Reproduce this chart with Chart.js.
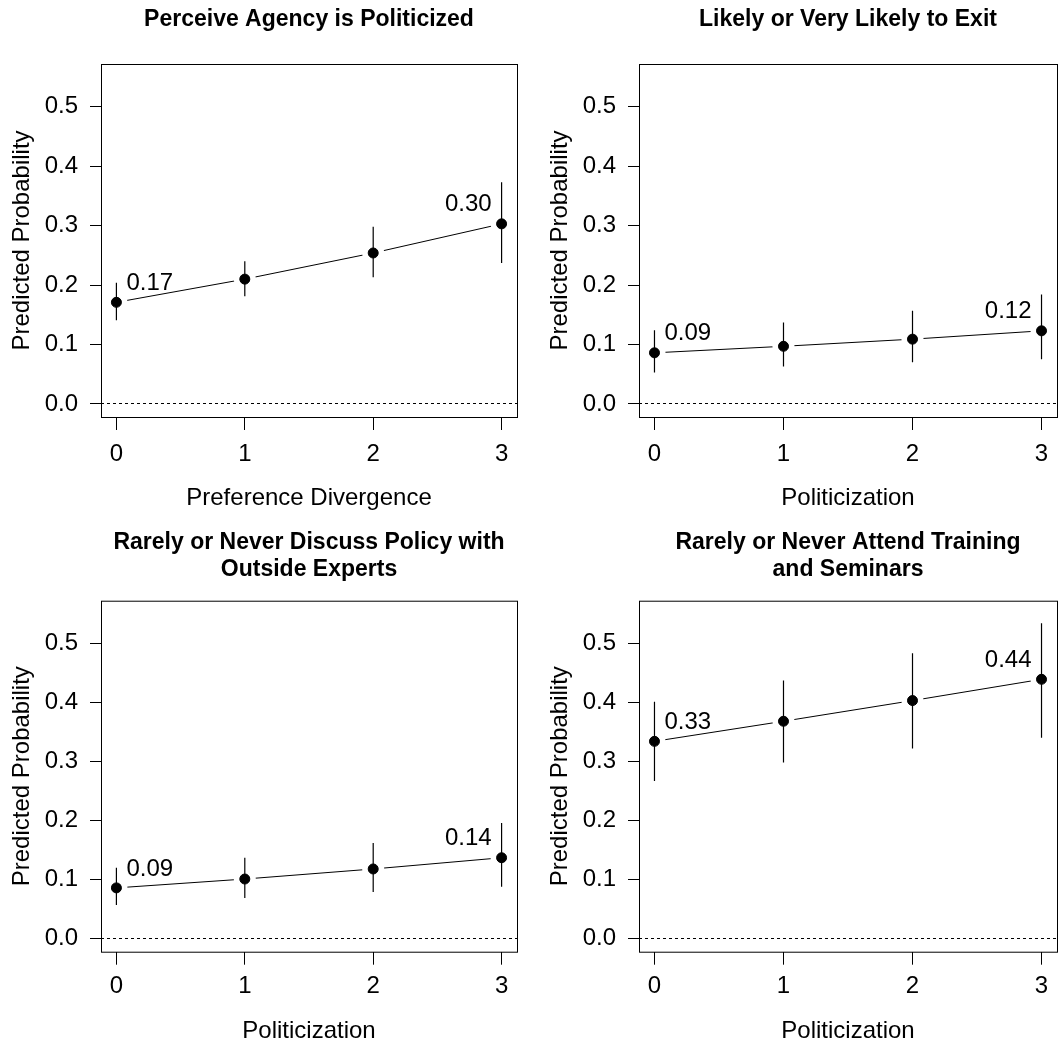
<!DOCTYPE html>
<html>
<head>
<meta charset="utf-8">
<script src="https://cdn.jsdelivr.net/npm/chart.js@4.4.1/dist/chart.umd.min.js"></script>
<style>
  html, body { margin: 0; padding: 0; background: #fff; overflow: hidden; }
  body { width: 1058px; height: 1047px; position: relative; }
  canvas { position: absolute; }
</style>
</head>
<body>
<canvas id="c1" width="530" height="520" style="left:0;top:0"></canvas>
<canvas id="c2" width="530" height="520" style="left:538px;top:0"></canvas>
<canvas id="c3" width="530" height="527" style="left:0;top:520px"></canvas>
<canvas id="c4" width="530" height="527" style="left:538px;top:520px"></canvas>
<script>
// values
const xValues = [0, 1, 2, 3];
const xLimits = [0, 3];
const yTicks = [0, 0.1, 0.2, 0.3, 0.4, 0.5];
const yLimits = [0, 0.55];

const politicizedEst = [0.171, 0.210, 0.254, 0.303];
const politicizedLo = [0.141, 0.181, 0.213, 0.237];
const politicizedHi = [0.204, 0.240, 0.298, 0.373];

const exitEst = [0.086, 0.097, 0.109, 0.123];
const exitLo = [0.053, 0.063, 0.070, 0.075];
const exitHi = [0.124, 0.137, 0.157, 0.184];

const expertsEst = [0.086, 0.101, 0.118, 0.137];
const expertsLo = [0.057, 0.069, 0.079, 0.088];
const expertsHi = [0.120, 0.137, 0.162, 0.196];

const trainingEst = [0.334, 0.368, 0.403, 0.439];
const trainingLo = [0.267, 0.298, 0.322, 0.340];
const trainingHi = [0.401, 0.437, 0.483, 0.534];

const FONT = "'Liberation Sans', Arial, Helvetica, sans-serif";

// R style axis range: 4% extra on each side
function extend(lim) {
  const d = (lim[1] - lim[0]) * 0.04;
  return [lim[0] - d, lim[1] + d];
}
const [xMin, xMax] = extend(xLimits);
const [yMin, yMax] = extend(yLimits);

// frame around the plot region + end labels
const framePlugin = {
  id: "frame",
  afterDatasetsDraw(chart) {
    const est = chart.data.datasets[2].data;
    const xs = chart.scales.x, ys = chart.scales.y;
    const ctx = chart.ctx;
    ctx.save();
    ctx.font = "24px " + FONT;
    ctx.fillStyle = "#000";
    ctx.textBaseline = "middle";
    const first = est[0], last = est[est.length - 1];
    ctx.textAlign = "left";
    ctx.fillText(first.y.toFixed(2), xs.getPixelForValue(first.x) + 10, ys.getPixelForValue(first.y) - 19);
    ctx.textAlign = "right";
    ctx.fillText(last.y.toFixed(2), xs.getPixelForValue(last.x) - 10, ys.getPixelForValue(last.y) - 19);
    ctx.restore();
  },
  afterDraw(chart) {
    const a = chart.chartArea;
    const ctx = chart.ctx;
    ctx.save();
    ctx.strokeStyle = "#000";
    ctx.lineWidth = 1;
    ctx.strokeRect(a.left + 0.5, a.top + 0.5, a.right - a.left, a.bottom - a.top);
    ctx.restore();
  },
};

function makePanel(id, title, xTitle, est, lo, hi, layout, padRight) {
  const pts = xValues.map((x, i) => ({ x: x, y: est[i] }));
  const bars = [];
  xValues.forEach((x, i) => {
    bars.push({ x: x, y: lo[i] }, { x: x, y: hi[i] }, { x: x, y: null });
  });
  const font = { family: FONT, size: 24 };

  new Chart(document.getElementById(id), {
    type: "scatter",
    data: {
      datasets: [
        {
          // connecting line, white discs leave the gaps like type="b"
          data: pts,
          showLine: true,
          borderColor: "#000",
          borderWidth: 1,
          pointRadius: 11,
          pointBackgroundColor: "#fff",
          pointBorderWidth: 0,
          order: 3,
        },
        {
          data: bars,
          showLine: true,
          spanGaps: false,
          borderColor: "#000",
          borderWidth: 1.2,
          pointRadius: 0,
          order: 2,
        },
        {
          data: pts,
          pointRadius: 5,
          pointBackgroundColor: "#000",
          pointBorderColor: "#000",
          pointBorderWidth: 1,
          order: 1,
        },
      ],
    },
    options: {
      responsive: false,
      animation: false,
      events: [],
      layout: { padding: { left: 0, right: padRight, top: 0, bottom: 0 } },
      plugins: {
        legend: { display: false },
        tooltip: { enabled: false },
        title: {
          display: true,
          text: title,
          fullSize: false,
          color: "#000",
          font: { family: FONT, size: 23, weight: "bold", lineHeight: 1.174 },
          padding: layout.titlePad,
        },
      },
      scales: {
        x: {
          type: "linear",
          min: xMin,
          max: xMax,
          afterBuildTicks: (s) => { s.ticks = xValues.map((v) => ({ value: v })); },
          afterFit: (s) => { s.height = layout.xHeight; },
          ticks: { font: font, color: "#000", padding: layout.xTickPad, callback: (v) => String(v) },
          grid: { drawOnChartArea: false, tickColor: "#000", tickLength: 13 },
          border: { display: false },
          title: {
            display: true,
            text: xTitle,
            color: "#000",
            font: font,
            padding: { top: 0, bottom: layout.xTitleBottom },
          },
        },
        y: {
          type: "linear",
          min: yMin,
          max: yMax,
          afterBuildTicks: (s) => { s.ticks = yTicks.map((v) => ({ value: v })); },
          afterFit: (s) => { s.width = 101; },
          ticks: { font: font, color: "#000", padding: 12, callback: (v) => v.toFixed(1) },
          grid: {
            color: (c) => (c.tick && c.tick.value === 0 ? "#000" : "rgba(0,0,0,0)"),
            tickColor: "#000",
            tickLength: 11,
            tickBorderDash: [],
          },
          border: { display: false, dash: [3, 3] },
          title: {
            display: true,
            text: "Predicted Probability",
            color: "#000",
            font: font,
            padding: { top: 7.5, bottom: 0 },
          },
        },
      },
    },
    plugins: [framePlugin],
  });
}

const topLayout = { xHeight: 103, xTickPad: 10, xTitleBottom: 7.4, titlePad: { top: 6.5, bottom: 30.5 } };
const bottomLayout = { xHeight: 95.3, xTickPad: 7.5, xTitleBottom: 1.4, titlePad: { top: 9.5, bottom: 17.2 } };

makePanel("c1", "Perceive Agency is Politicized", "Preference Divergence",
  politicizedEst, politicizedLo, politicizedHi, topLayout, 13);
makePanel("c2", "Likely or Very Likely to Exit", "Politicization",
  exitEst, exitLo, exitHi, topLayout, 10);
makePanel("c3", ["Rarely or Never Discuss Policy with", "Outside Experts"], "Politicization",
  expertsEst, expertsLo, expertsHi, bottomLayout, 13);
makePanel("c4", ["Rarely or Never Attend Training", "and Seminars"], "Politicization",
  trainingEst, trainingLo, trainingHi, bottomLayout, 10);
</script>
</body>
</html>
